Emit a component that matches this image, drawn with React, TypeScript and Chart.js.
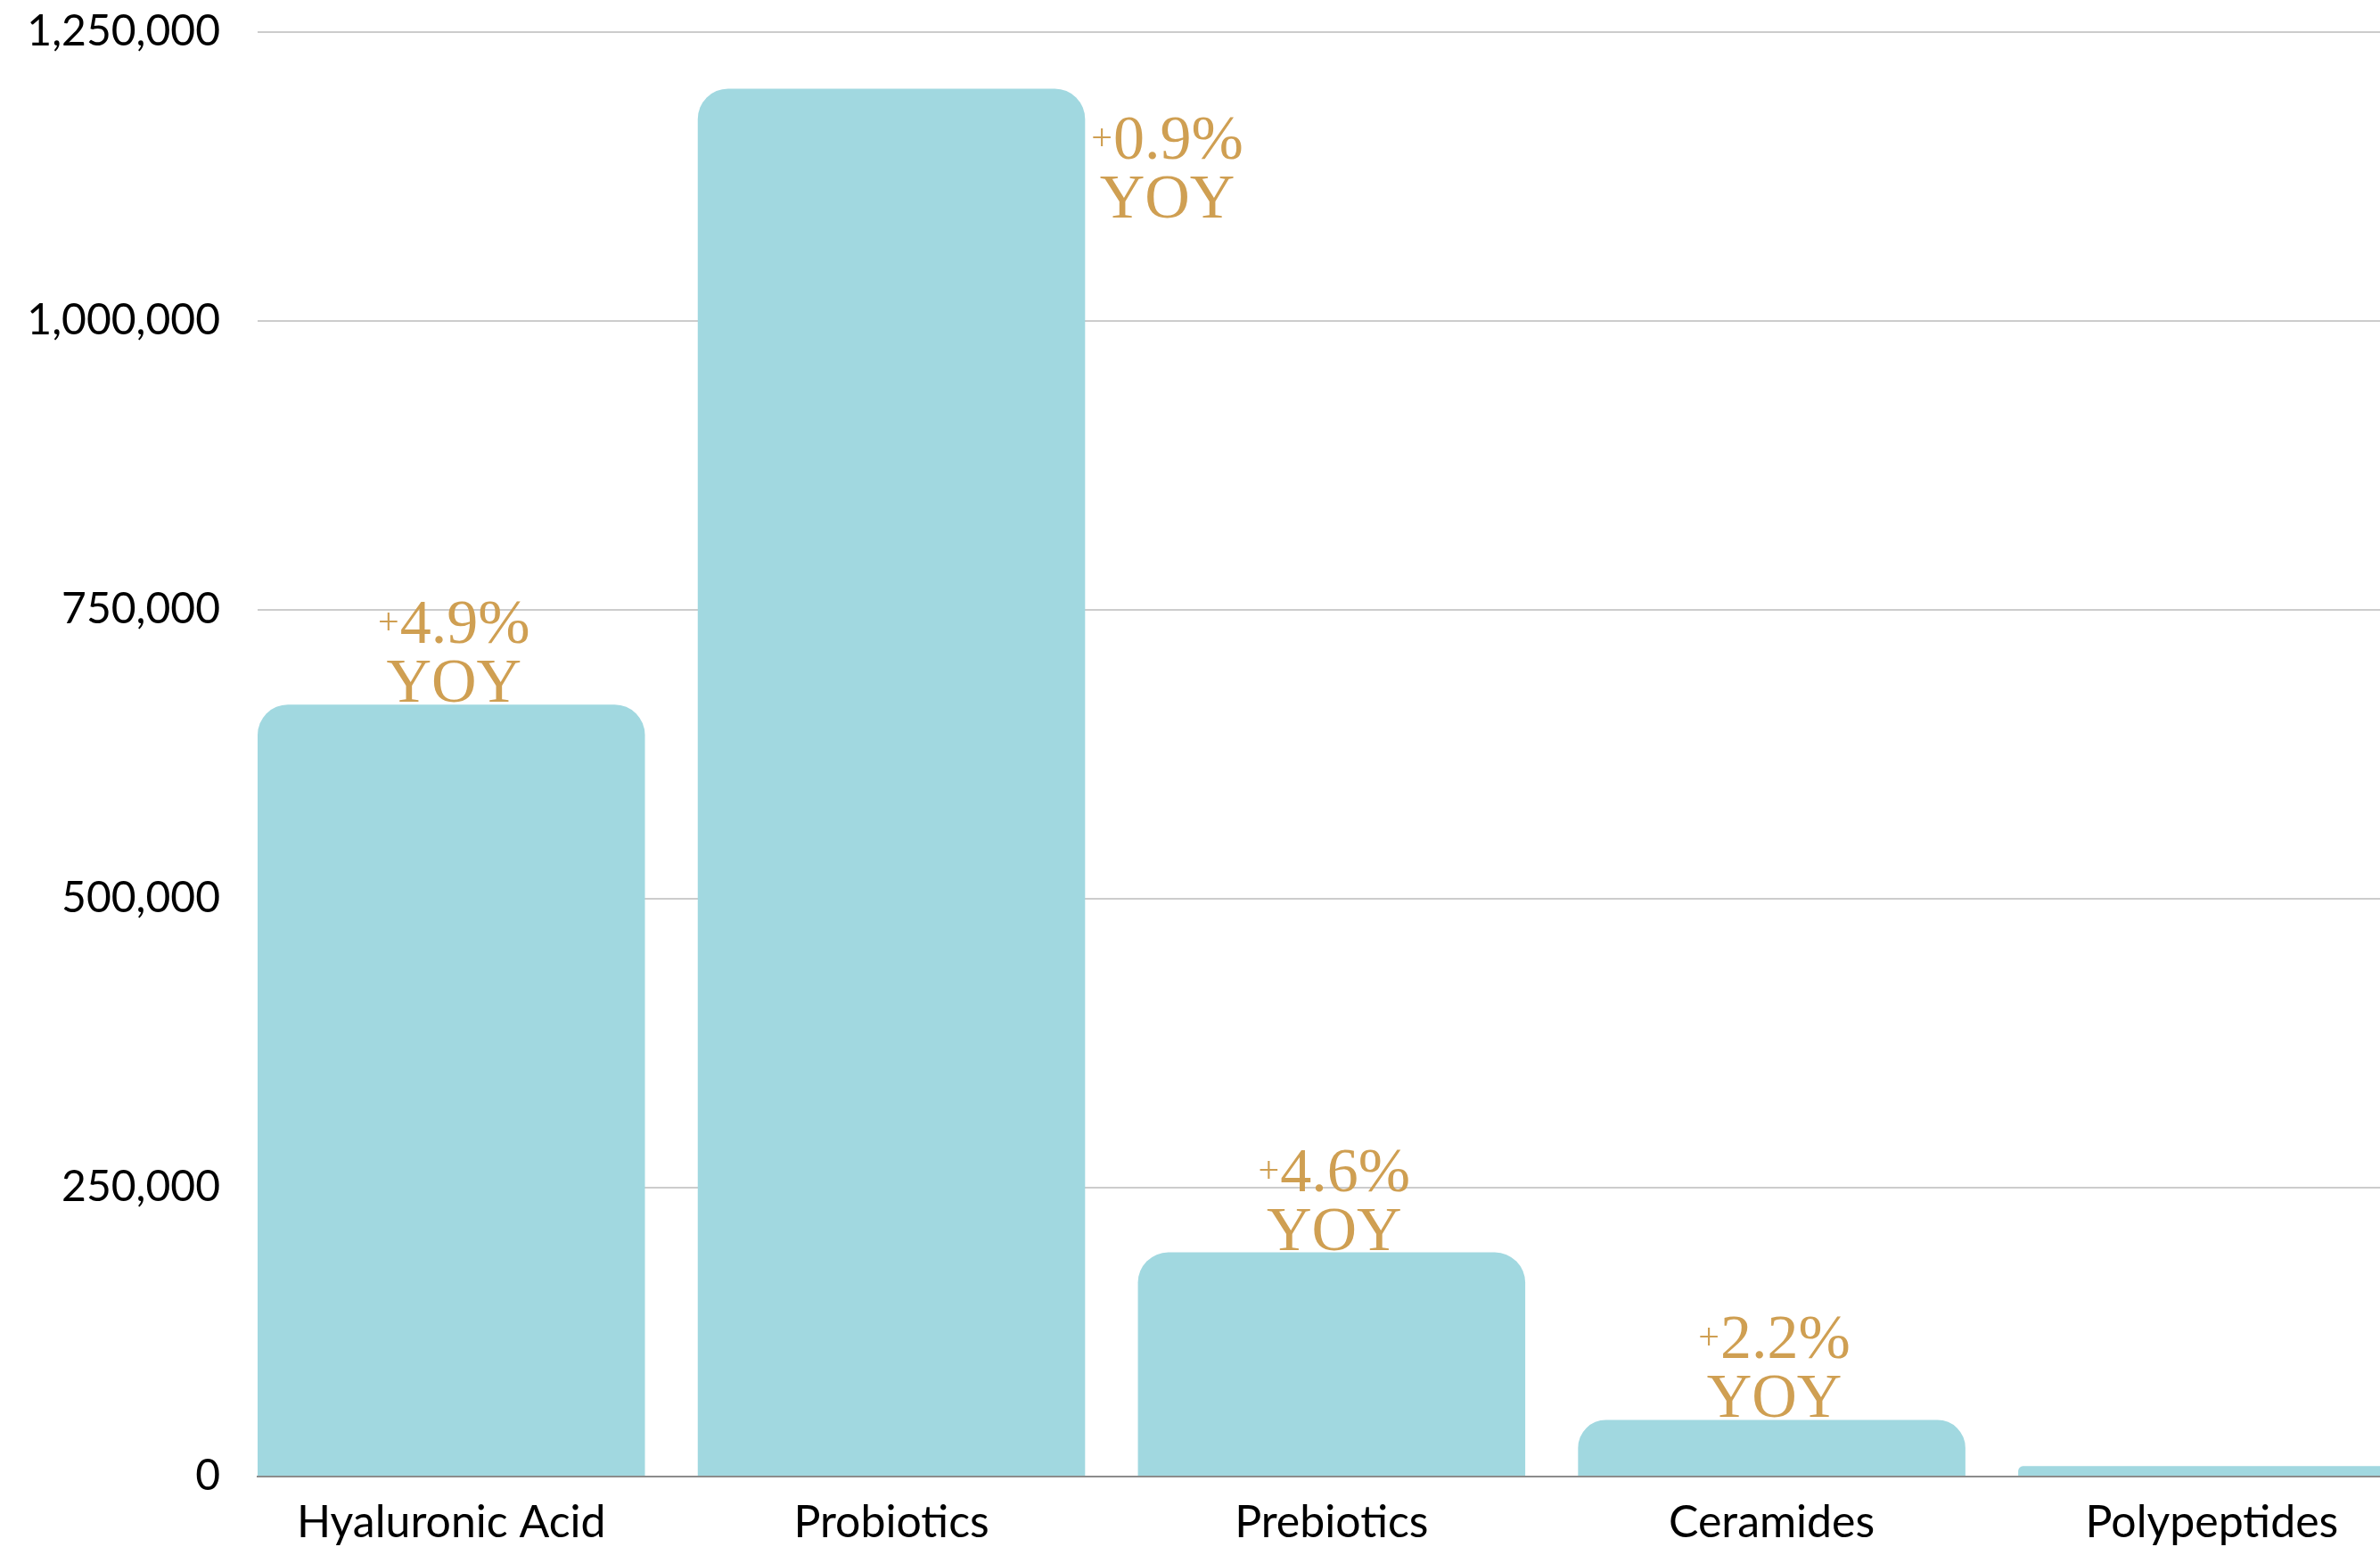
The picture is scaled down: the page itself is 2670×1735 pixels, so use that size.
import React, { useEffect, useRef } from "react";
import { Chart, registerables } from "chart.js";

Chart.register(...registerables);

const categories = ["Hyaluronic Acid", "Probiotics", "Prebiotics", "Ceramides", "Polypeptides"];
const marketValues = [668000, 1201000, 194000, 49000, 9000];
const yoyGrowth: (number | null)[] = [4.9, 0.9, 4.6, 2.2, null];
const yTickValues = [0, 250000, 500000, 750000, 1000000, 1250000];

const BAR_COLOR = "#A1D8E0";
const GOLD = "#CF9F52";
const SANS = "Lato";
const SERIF = '"Liberation Serif"';

const yoyPlugin = {
  id: "yoyLabels",
  afterDatasetsDraw(chart: any) {
    const ctx = chart.ctx;
    const area = chart.chartArea;
    const meta = chart.getDatasetMeta(0);
    meta.data.forEach((bar: any, i: number) => {
      const g = yoyGrowth[i];
      if (g == null) return;
      const { x, y, width } = bar.getProps(["x", "y", "width"], true);
      const num = g.toFixed(1) + "%";
      const bigFont = `70px ${SERIF}`;
      const smallFont = `42px ${SERIF}`;
      ctx.save();
      ctx.fillStyle = GOLD;
      ctx.textBaseline = "alphabetic";
      ctx.textAlign = "left";
      ctx.font = bigFont;
      const numW = ctx.measureText(num).width;
      const yoyW = ctx.measureText("YOY").width;
      ctx.font = smallFont;
      const plusW = ctx.measureText("+").width;
      const gap = 1;
      const line1W = plusW + gap + numW;
      const blockW = Math.max(line1W, yoyW);
      const lineGap = 66;
      let cx: number;
      let base2: number;
      if (y - 135 < area.top) {
        cx = x + width / 2 + 7 + blockW / 2;
        base2 = y + 144;
      } else {
        cx = x + 3;
        base2 = y - 3;
      }
      const base1 = base2 - lineGap;
      const l1x = cx - line1W / 2;
      ctx.font = smallFont;
      ctx.fillText("+", l1x, base1 - 10);
      ctx.font = bigFont;
      ctx.fillText(num, l1x + plusW + gap, base1);
      ctx.textAlign = "center";
      ctx.fillText("YOY", cx, base2);
      ctx.restore();
    });
  },
};

export default function App() {
  const canvasRef = useRef<HTMLCanvasElement | null>(null);

  useEffect(() => {
    document.body.style.margin = "0";
    const canvas = canvasRef.current;
    if (!canvas) return;
    const chart = new Chart(canvas, {
      type: "bar",
      data: {
        datasets: [
          {
            data: marketValues.map((v, i) => ({ x: i, y: v })),
            backgroundColor: BAR_COLOR,
            borderWidth: 0,
            borderRadius: { topLeft: 34, topRight: 34, bottomLeft: 0, bottomRight: 0 },
            borderSkipped: false,
            categoryPercentage: 1,
            barPercentage: 0.88,
          },
        ],
      },
      options: {
        responsive: false,
        animation: false,
        devicePixelRatio: 1,
        layout: { padding: { top: 36, left: 0, right: 0, bottom: 0 } },
        plugins: {
          legend: { display: false },
          tooltip: { enabled: false },
        },
        scales: {
          x: {
            type: "linear",
            min: -0.44,
            max: 4.382,
            bounds: "data",
            offset: false,
            grid: { display: false, drawTicks: false },
            border: { display: true, color: "#8C8C8C", width: 2 },
            afterBuildTicks: (scale: any) => {
              scale.ticks = categories.map((_, i) => ({ value: i }));
            },
            afterFit: (scale: any) => {
              scale.height = 79;
              scale.paddingLeft = 0;
              scale.paddingRight = 0;
            },
            ticks: {
              autoSkip: false,
              maxRotation: 0,
              padding: 22,
              color: "#000000",
              font: { family: SANS, size: 50 },
              callback: (v: any) => categories[Math.round(Number(v))] ?? "",
            },
          },
          y: {
            min: 0,
            max: 1250000,
            afterBuildTicks: (scale: any) => {
              scale.ticks = yTickValues.map((v) => ({ value: v }));
            },
            afterFit: (scale: any) => {
              scale.width = 289;
              scale.paddingTop = 0;
              scale.paddingBottom = 0;
            },
            grid: {
              color: (c: any) => (c.tick && c.tick.value === 0 ? "rgba(0,0,0,0)" : "#CCCCCC"),
              lineWidth: 2,
              drawTicks: false,
            },
            border: { display: false },
            ticks: {
              padding: 42,
              color: "#000000",
              font: { family: SANS, size: 48 },
              callback: (v: any) => Number(v).toLocaleString("en-US"),
            },
          },
        },
      },
      plugins: [yoyPlugin],
    } as any);
    return () => chart.destroy();
  }, []);

  return (
    <div style={{ width: 2670, height: 1735, position: "relative", background: "#FFFFFF" }}>
      <canvas ref={canvasRef} width={2670} height={1735} style={{ display: "block" }} />
    </div>
  );
}
